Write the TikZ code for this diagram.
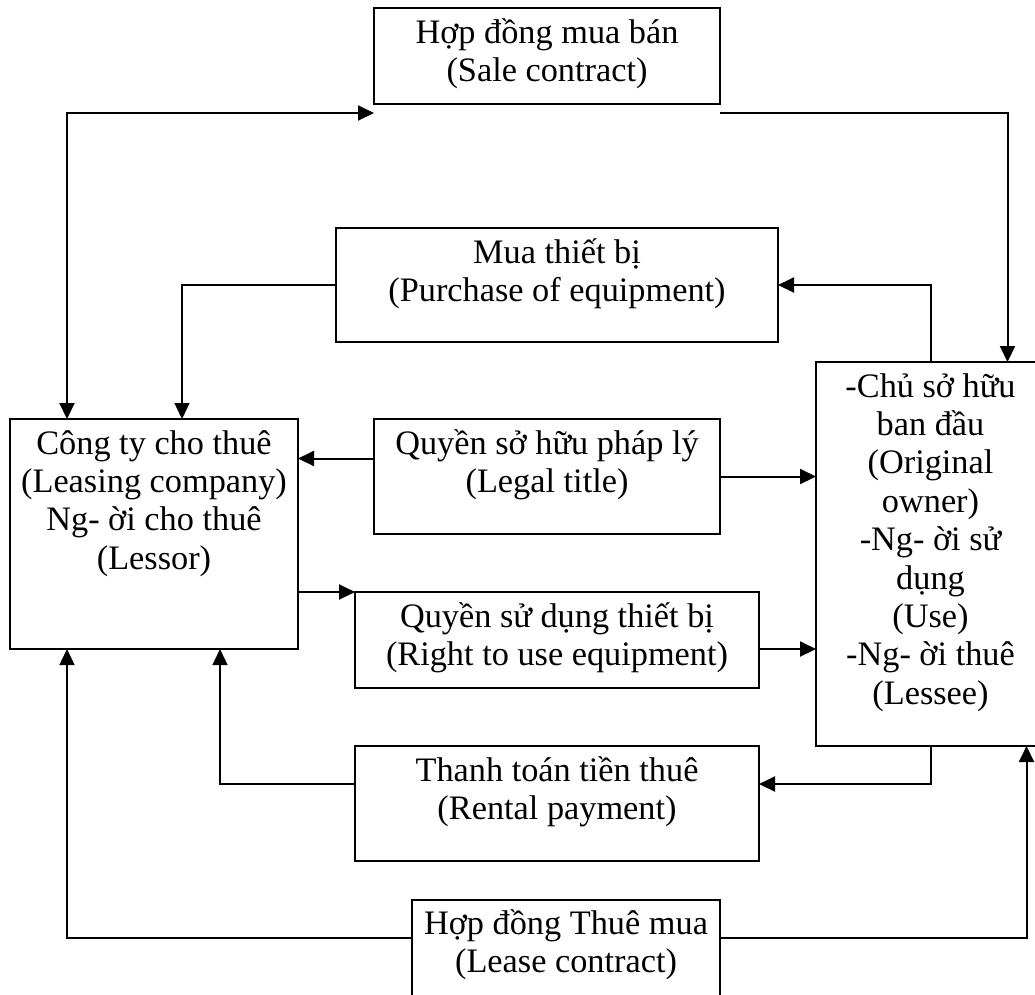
\documentclass[tikz,border=0pt]{standalone}
\usepackage{fontspec}
\setmainfont{Liberation Serif}
\usetikzlibrary{arrows.meta,calc}

\begin{document}
\begin{tikzpicture}[x=1pt,y=-1pt,
  box/.style={draw,line width=1.2pt,inner sep=0pt,outer sep=0pt},
  txt/.style={anchor=north,inner sep=0pt,align=center,
    font=\fontsize{34.3}{38.4}\selectfont},
  conn/.style={line width=2pt,-{Triangle[length=16pt,width=15pt]}},
  thin/.style={line width=1.4pt},
  both/.style={line width=2pt,{Triangle[length=16pt,width=15pt]}-{Triangle[length=16pt,width=15pt]}}]

\useasboundingbox (0,0) rectangle (1035,994);

% boxes (given by centre and size)
\node[box,minimum width=346pt,minimum height=96pt]  (sale)   at (547,56)     {};
\node[box,minimum width=442pt,minimum height=114pt] (buy)    at (557,285)    {};
\node[box,minimum width=288pt,minimum height=230pt] (lessor) at (154,534)    {};
\node[box,minimum width=346pt,minimum height=115pt] (title)  at (547,476.5)  {};
\node[box,minimum width=404pt,minimum height=96pt]  (use)    at (557,640)    {};
\node[box,minimum width=229pt,minimum height=384pt] (lessee) at (930.5,554)  {};
\node[box,minimum width=404pt,minimum height=115pt] (rent)   at (557,803.5)  {};
\node[box,minimum width=308pt,minimum height=110pt] (lease)  at (566,955)    {};

% box texts
\node[txt] (saleT)   at ([yshift=-8pt]sale.north)   {\strut Hợp đồng mua bán\\(Sale contract)};
\node[txt] (buyT)    at ([yshift=-8pt]buy.north)    {\strut Mua thiết bị\\(Purchase of equipment)};
\node[txt] (lessorT) at ([yshift=-8pt]lessor.north) {\strut Công ty cho thuê\\(Leasing company)\\Ng- ời cho thuê\\(Lessor)};
\node[txt] (titleT)  at ([yshift=-8pt]title.north)  {\strut Quyền sở hữu pháp lý\\(Legal title)};
\node[txt] (useT)    at ([yshift=-8pt]use.north)    {\strut Quyền sử dụng thiết bị\\(Right to use equipment)};
\node[txt] (lesseeT) at ([yshift=-8pt]lessee.north) {\strut -Chủ sở hữu\\ban đầu\\(Original\\owner)\\-Ng- ời sử\\dụng\\(Use)\\-Ng- ời thuê\\(Lessee)};
\node[txt] (rentT)   at ([yshift=-8pt]rent.north)   {\strut Thanh toán tiền thuê\\(Rental payment)};
\node[txt] (leaseT)  at ([yshift=-7pt]lease.north)  {\strut Hợp đồng Thuê mua\\(Lease contract)};

% routing helpers
\coordinate (colA) at ([xshift=57pt]lessor.north west);
\coordinate (tw)   at ([yshift=18pt]title.west);

% sale contract
\draw[both] (lessor.north -| colA) |- ([yshift=-9pt]sale.south west);
\draw[conn] ([yshift=-9pt]sale.south east) -| ([xshift=77pt]lessee.north);

% purchase of equipment
\draw[conn,thin] (buy.west) -| ([xshift=172pt]lessor.north west);
\draw[conn] (lessee.north) |- (buy.east);

% legal title
\draw[conn] (tw) -- (tw -| lessor.east);
\draw[conn] (title.east) -- (title.east -| lessee.west);

% right to use equipment
\draw[conn] (use.north west -| lessor.east) -- (use.north west);
\draw[conn] ([yshift=-9pt]use.east) -- ([yshift=-9pt]use.east -| lessee.west);

% rental payment
\draw[conn,thin] ([yshift=19.5pt]rent.west) -| ([xshift=210pt]lessor.south west);
\draw[conn] (lessee.south) |- ([yshift=19.5pt]rent.east);

% lease contract
\draw[conn,thin] ([yshift=17pt]lease.west) -| (lessor.south -| colA);
\draw[conn] ([yshift=17pt]lease.east) -| ([xshift=96pt]lessee.south);

\end{tikzpicture}
\end{document}
